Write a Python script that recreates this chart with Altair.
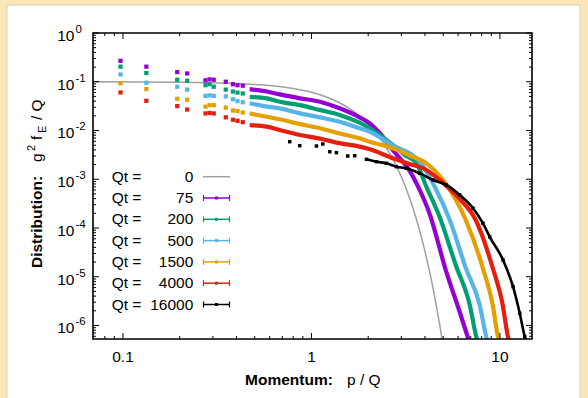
import altair as alt
import pandas as pd

W, H = 439, 306
FONT = "Liberation Sans"

# ---------------- data ----------------
# Qt = 0 (initial condition, thin gray curve)
P0 = [0.07, 0.2, 0.4, 0.6, 0.8, 1.0, 1.2, 1.4, 1.6, 1.8, 2.0, 2.2, 2.4, 2.6, 2.8,
      3.0, 3.2, 3.4, 3.6, 3.8, 4.0, 4.2, 4.4, 4.6, 4.8, 5.0]
F0 = [0.100, 0.098, 0.092, 0.0835, 0.0726, 0.0607, 0.0487, 0.0375, 0.0278, 0.0198,
      0.0135, 0.0089, 0.0056, 0.0034, 0.00198, 0.00111, 6.0e-4, 3.1e-4, 1.53e-4,
      7.3e-5, 3.35e-5, 1.47e-5, 6.3e-6, 2.5e-6, 1.0e-6, 3.7e-7]

# low-momentum (sparse) points shared by the coloured series
SPARSE_P = [0.097, 0.133, 0.194, 0.219, 0.274, 0.288, 0.303, 0.351, 0.383, 0.405, 0.432]
SPARSE_F = {
    "75":   [0.269, 0.204, 0.158, 0.148, 0.107, 0.112, 0.110, 0.100, 0.089, 0.085, 0.083],
    "200":  [0.204, 0.151, 0.110, 0.105, 0.085, 0.089, 0.079, 0.069, 0.063, 0.060, 0.0575],
    "500":  [0.141, 0.0955, 0.079, 0.069, 0.0513, 0.0525, 0.0513, 0.050, 0.0437, 0.040, 0.038],
    "1500": [0.0933, 0.0708, 0.0447, 0.0427, 0.0309, 0.0331, 0.0331, 0.0295, 0.0257, 0.0251, 0.0234],
    "4000": [0.0603, 0.0407, 0.0316, 0.0269, 0.0224, 0.0229, 0.0224, 0.0186, 0.0166, 0.0158, 0.0148],
}

# dense part of each coloured series
DENSE = {
    "75": (
        [0.47, 0.58, 0.68, 0.87, 1.11, 1.41, 1.80, 2.04, 2.30, 2.70, 3.32, 3.68, 4.24, 5.16, 6.12, 6.75, 7.0],
        [0.0708, 0.0631, 0.0550, 0.0457, 0.0389, 0.0285, 0.01866, 0.01406, 0.00889, 0.00398,
         0.00148, 7.03e-4, 1.94e-4, 1.37e-5, 1.89e-6, 5.8e-7, 3.7e-7]),
    "200": (
        [0.47, 0.58, 0.68, 0.87, 1.11, 1.41, 1.80, 2.04, 2.30, 2.70, 3.13, 3.61, 4.07, 4.79, 5.83, 6.92, 7.50, 7.78],
        [0.049, 0.0457, 0.0389, 0.0331, 0.0263, 0.0209, 0.01445, 0.01109, 0.00809, 0.00504,
         0.00314, 0.00212, 7.03e-4, 1.68e-4, 1.74e-5, 2.63e-6, 5.8e-7, 3.7e-7]),
    "500": (
        [0.47, 0.58, 0.68, 0.87, 1.11, 1.41, 1.80, 2.04, 2.70, 3.75, 4.51, 5.42, 6.59, 7.81, 8.47, 8.79],
        [0.0363, 0.0309, 0.0285, 0.0224, 0.0186, 0.0151, 0.0111, 0.00945, 0.00497, 0.00229,
         7.03e-4, 1.46e-4, 1.51e-5, 2.63e-6, 5.8e-7, 3.7e-7]),
    "1500": (
        [0.47, 0.58, 0.68, 0.87, 1.11, 1.41, 1.80, 2.04, 2.71, 3.32, 4.07, 4.99, 6.59, 8.11, 9.16, 9.77, 10.14],
        [0.0224, 0.0191, 0.0170, 0.0135, 0.0111, 0.0087, 0.00692, 0.00589, 0.00431, 0.00307,
         0.00212, 9.66e-4, 1.46e-4, 1.51e-5, 2.63e-6, 5.8e-7, 3.7e-7]),
    "4000": (
        [0.47, 0.58, 0.68, 0.87, 1.11, 1.41, 1.80, 2.04, 2.71, 3.32, 4.07, 4.79, 5.20, 6.12, 7.44, 9.16, 10.35, 11.04, 11.45],
        [0.0129, 0.0120, 0.0102, 0.0081, 0.0068, 0.0055, 0.00466, 0.00411, 0.00269, 0.00206,
         0.00155, 9.66e-4, 7.28e-4, 3.94e-4, 1.46e-4, 1.51e-5, 2.63e-6, 5.8e-7, 3.7e-7]),
}

# Qt = 16000 (black)
P_BLACK = [0.767, 0.867, 1.063, 1.148, 1.251, 1.357, 1.558, 1.697, 1.958, 2.213, 2.50, 2.824,
           3.19, 3.754, 4.416, 5.20, 6.12, 7.20, 8.13, 8.83, 10.39, 11.74, 12.74, 13.54, 14.05]
F_BLACK = [0.00589, 0.00488, 0.00481, 0.00528, 0.00367, 0.00351, 0.0030, 0.00304, 0.00256,
           0.00229, 0.00212, 0.00181, 0.00168, 0.00132, 9.66e-4, 7.62e-4, 4.75e-4, 2.54e-4,
           1.25e-4, 6.6e-5, 2.2e-5, 6.25e-6, 1.78e-6, 5.9e-7, 3.7e-7]

LEGEND_NUM = ["0", "75", "200", "500", "1500", "4000", "16000"]
COLORS = ["#a0a0a0", "#9400d3", "#009e73", "#56b4e9", "#e69f00", "#e51e10", "#000000"]

X_LABELS = [0.1, 1, 10]
X_MINOR = [0.08, 0.09, 0.2, 0.3, 0.4, 0.5, 0.6, 0.7, 0.8, 0.9, 2, 3, 4, 5, 6, 7, 8, 9]
Y_EXP = [0, -1, -2, -3, -4, -5, -6]
Y_MINOR = [k * 10.0 ** e for e in range(-7, 0) for k in range(2, 10) if k * 10.0 ** e > 5.3e-7]

XS = alt.Scale(type="log", domain=[0.0693, 14.8], nice=False)
YS = alt.Scale(type="log", domain=[5.28e-7, 1.0], nice=False)


def X(field="p"):
    return alt.X(f"{field}:Q", scale=XS, axis=None)


def Y(field="f"):
    return alt.Y(f"{field}:Q", scale=YS, axis=None)


layers = []

# white panel on the beige page
layers.append(alt.Chart(pd.DataFrame({"a": [0]})).mark_rect(
    fill="white", stroke="#d9cfb8", strokeWidth=1).encode(
    x=alt.value(-86), x2=alt.value(487), y=alt.value(-28), y2=alt.value(380)))

# Qt = 0 curve
layers.append(alt.Chart(pd.DataFrame({"p": P0, "f": F0})).mark_line(
    color=COLORS[0], strokeWidth=1.5, clip=True, interpolate="monotone").encode(x=X(), y=Y()))

names = ["75", "200", "500", "1500", "4000"]
for i, name in enumerate(names):
    c = COLORS[i + 1]
    dp, df_ = DENSE[name]
    layers.append(alt.Chart(pd.DataFrame({"p": dp, "f": df_})).mark_line(
        color=c, strokeWidth=4.2, clip=True, interpolate="monotone").encode(x=X(), y=Y()))
    layers.append(alt.Chart(pd.DataFrame({"p": SPARSE_P, "f": SPARSE_F[name]})).mark_square(
        color=c, size=18, opacity=1, clip=True).encode(x=X(), y=Y()))

black = pd.DataFrame({"p": P_BLACK, "f": F_BLACK})
layers.append(alt.Chart(black).transform_filter("datum.p > 1.9").mark_line(
    color="black", strokeWidth=2.6, clip=True, interpolate="monotone").encode(x=X(), y=Y()))
layers.append(alt.Chart(black).mark_square(color="black", size=12, opacity=1, clip=True).encode(
    x=X(), y=Y()))

# ticks (inward, gnuplot style, all four sides)
def xticks(vals, ln):
    d = pd.DataFrame({"p": vals})
    return [alt.Chart(d).mark_rule(color="black", strokeWidth=1).encode(
                x=X(), y=alt.value(H), y2=alt.value(H - ln)),
            alt.Chart(d).mark_rule(color="black", strokeWidth=1).encode(
                x=X(), y=alt.value(0), y2=alt.value(ln))]


def yticks(vals, ln):
    d = pd.DataFrame({"f": vals})
    return [alt.Chart(d).mark_rule(color="black", strokeWidth=1).encode(
                y=Y(), x=alt.value(0), x2=alt.value(ln)),
            alt.Chart(d).mark_rule(color="black", strokeWidth=1).encode(
                y=Y(), x=alt.value(W), x2=alt.value(W - ln))]


layers += xticks(X_LABELS, 6) + xticks(X_MINOR, 3)
layers += yticks([10.0 ** e for e in Y_EXP], 6) + yticks(Y_MINOR, 3)

# frame
layers.append(alt.Chart(pd.DataFrame({"a": [0]})).mark_rect(
    fill=None, stroke="black", strokeWidth=1.6).encode(
    x=alt.value(0), x2=alt.value(W), y=alt.value(0), y2=alt.value(H)))

# x tick labels
layers.append(alt.Chart(pd.DataFrame({"p": X_LABELS, "t": ["0.1", "1", "10"]})).mark_text(
    font=FONT, fontSize=15.5, align="center", baseline="alphabetic", color="black").encode(
    x=X(), y=alt.value(H + 23), text="t:N"))

# y tick labels: "10" with superscript exponent
ylab = pd.DataFrame({"f": [10.0 ** e for e in Y_EXP], "e": [str(e) for e in Y_EXP]})
layers.append(alt.Chart(ylab).mark_text(
    font=FONT, fontSize=15.5, align="right", baseline="alphabetic", dy=8, color="black").encode(
    y=Y(), x=alt.value(-18.5), text=alt.value("10")))
layers.append(alt.Chart(ylab).mark_text(
    font=FONT, fontSize=11.5, align="left", baseline="alphabetic", dy=0, color="black").encode(
    y=Y(), x=alt.value(-17.5), text="e:N"))

# axis titles
def txt(s, x, y, size=15.5, bold=False, angle=0, align="left"):
    return alt.Chart(pd.DataFrame({"a": [0]})).mark_text(
        text=s, font=FONT, fontSize=size, fontWeight="bold" if bold else "normal",
        angle=angle, align=align, baseline="alphabetic", color="black").encode(
        x=alt.value(x), y=alt.value(y))


layers.append(txt("Momentum:", 152, 352, bold=True))
layers.append(txt("p / Q", 254, 352))

layers.append(txt("Distribution:", -51.5, 235, bold=True, angle=270))
layers.append(txt("g", -51.5, 129, angle=270))
layers.append(txt("2", -58, 118, size=11, angle=270))
layers.append(txt("f", -51.5, 107, angle=270))
layers.append(txt("E", -47, 100, size=11, angle=270))
layers.append(txt("/ Q", -51.5, 87, angle=270))

# legend
leg = pd.DataFrame({"num": LEGEND_NUM, "row": list(range(7)), "c": COLORS})
leg_base = alt.Chart(leg).transform_calculate(
    ypx="143.7 + 21.3 * datum.row", ylo="140.7 + 21.3 * datum.row", yhi="146.7 + 21.3 * datum.row")
layers.append(leg_base.mark_text(font=FONT, fontSize=15.5, align="left", baseline="middle",
                                 color="black").encode(
    x=alt.value(18.7), y=alt.Y("ypx:Q", scale=None), text=alt.value("Qt =")))
layers.append(leg_base.mark_text(font=FONT, fontSize=15.5, align="right", baseline="middle",
                                 color="black").encode(
    x=alt.value(100.3), y=alt.Y("ypx:Q", scale=None), text="num:N"))
layers.append(leg_base.mark_rule(strokeWidth=1.5).encode(
    x=alt.value(110), x2=alt.value(137), y=alt.Y("ypx:Q", scale=None),
    color=alt.Color("c:N", scale=None)))
leg_err = leg_base.transform_filter("datum.row > 0")
for xv in (110.5, 136.5):
    layers.append(leg_err.mark_rule(strokeWidth=1.2).encode(
        x=alt.value(xv), y=alt.Y("ylo:Q", scale=None), y2="yhi:Q",
        color=alt.Color("c:N", scale=None)))
layers.append(leg_err.mark_square(size=9, opacity=1).encode(
    x=alt.value(123.5), y=alt.Y("ypx:Q", scale=None), color=alt.Color("c:N", scale=None)))

chart = alt.layer(*layers).properties(
    width=W, height=H, background="#fce6b8",
    padding={"left": 93, "top": 33, "right": 56, "bottom": 59},
    autosize=alt.AutoSizeParams(type="none"),
).configure_view(stroke=None)

chart.save("out.html", embed_options={"renderer": "svg", "actions": False})
